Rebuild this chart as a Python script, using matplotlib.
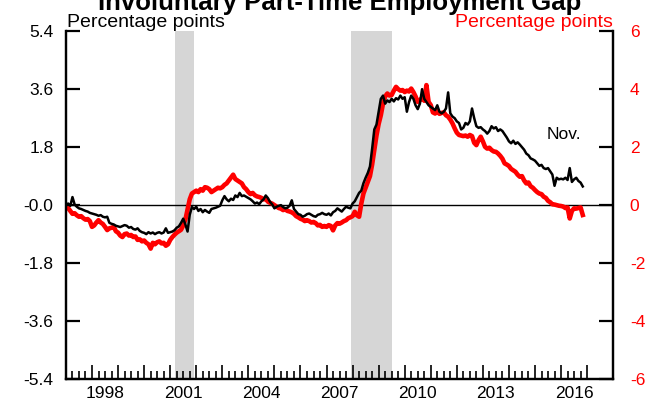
import numpy as np
import matplotlib
matplotlib.use("Agg")
import matplotlib.pyplot as plt
from matplotlib.ticker import FixedLocator

plt.rcParams['font.family'] = ['Liberation Sans', 'DejaVu Sans']

# monthly values, Jan 1997 - Nov 2016
# black line, left axis
gap_black = [
    0.0, 0.05, -0.02, 0.25, 0.02, -0.05, -0.1, -0.12, -0.15, -0.18, -0.2, -0.24,          # 1997
    -0.26, -0.28, -0.3, -0.33, -0.31, -0.36, -0.38, -0.36, -0.55, -0.58, -0.6, -0.64,     # 1998
    -0.66, -0.68, -0.65, -0.62, -0.64, -0.7, -0.68, -0.74, -0.76, -0.72, -0.8, -0.84,     # 1999
    -0.86, -0.9, -0.84, -0.88, -0.85, -0.9, -0.86, -0.84, -0.88, -0.85, -0.72, -0.86,     # 2000
    -0.84, -0.82, -0.78, -0.7, -0.66, -0.55, -0.42, -0.6, -0.82, -0.3, -0.06, -0.12,      # 2001
    -0.05, -0.18, -0.12, -0.22, -0.15, -0.2, -0.24, -0.12, -0.1, -0.08, -0.05, -0.02,     # 2002
    0.15, 0.28, 0.18, 0.12, 0.2, 0.16, 0.3, 0.25, 0.38, 0.28, 0.3, 0.26,                  # 2003
    0.22, 0.18, 0.12, 0.05, 0.08, 0.03, 0.12, 0.18, 0.3, 0.22, 0.1, 0.02,                 # 2004
    -0.1, -0.05, -0.02, 0.0, -0.06, -0.1, -0.08, -0.02, 0.15, -0.12, -0.2, -0.28,         # 2005
    -0.3, -0.36, -0.33, -0.28, -0.26, -0.3, -0.34, -0.36, -0.3, -0.28, -0.24, -0.28,      # 2006
    -0.3, -0.26, -0.32, -0.22, -0.18, -0.1, -0.15, -0.2, -0.12, -0.05, -0.08, -0.1,       # 2007
    0.05, 0.12, 0.25, 0.38, 0.45, 0.68, 0.85, 1.0, 1.2, 1.75, 2.35, 2.5,                  # 2008
    2.9, 3.3, 3.4, 3.15, 3.25, 3.2, 3.3, 3.22, 3.32, 3.28, 3.4, 3.3,                      # 2009
    3.35, 2.9, 3.2, 3.4, 3.3, 3.1, 2.98, 3.15, 3.6, 3.3, 3.2, 3.1,                        # 2010
    3.05, 3.0, 2.95, 3.1, 2.9, 2.85, 2.9, 3.0, 3.5, 2.85, 2.75, 2.7,                      # 2011
    2.6, 2.55, 2.35, 2.4, 2.55, 2.5, 2.6, 3.0, 2.7, 2.45, 2.4, 2.42,                      # 2012
    2.35, 2.3, 2.22, 2.3, 2.45, 2.38, 2.42, 2.3, 2.35, 2.3, 2.2, 2.1,                     # 2013
    1.98, 1.92, 2.0, 1.9, 1.95, 1.88, 1.8, 1.72, 1.6, 1.55, 1.45, 1.42,                   # 2014
    1.38, 1.3, 1.22, 1.25, 1.15, 1.12, 1.15, 1.05, 0.95, 0.6, 0.85, 0.8,                  # 2015
    0.82, 0.8, 0.85, 0.78, 1.15, 0.72, 0.8, 0.85, 0.75, 0.7, 0.58,                        # 2016
]

# red line, right axis
gap_red = [
    0.0, -0.1, -0.2, -0.3, -0.28, -0.35, -0.4, -0.38, -0.45, -0.5, -0.48, -0.55,          # 1997
    -0.75, -0.7, -0.6, -0.52, -0.6, -0.65, -0.75, -0.86, -0.8, -0.78, -0.75, -0.9,        # 1998
    -0.95, -1.05, -1.1, -1.0, -0.98, -1.05, -1.03, -1.1, -1.08, -1.2, -1.18, -1.25,       # 1999
    -1.22, -1.3, -1.35, -1.5, -1.3, -1.35, -1.28, -1.25, -1.32, -1.3, -1.4, -1.35,        # 2000
    -1.2, -1.1, -1.02, -0.95, -0.9, -0.85, -0.7, -0.5, -0.15, 0.2, 0.4, 0.45,             # 2001
    0.5, 0.45, 0.55, 0.5, 0.62, 0.6, 0.55, 0.45, 0.5, 0.55, 0.6, 0.58,                    # 2002
    0.62, 0.7, 0.75, 0.85, 0.95, 1.05, 0.9, 0.85, 0.8, 0.75, 0.62, 0.55,                  # 2003
    0.45, 0.38, 0.42, 0.34, 0.3, 0.28, 0.25, 0.2, 0.22, 0.12, 0.08, 0.05,                 # 2004
    0.0, -0.05, -0.1, -0.12, -0.17, -0.15, -0.2, -0.22, -0.25, -0.3, -0.38, -0.42,        # 2005
    -0.47, -0.5, -0.55, -0.52, -0.55, -0.6, -0.58, -0.62, -0.7, -0.68, -0.75, -0.72,      # 2006
    -0.75, -0.69, -0.72, -0.87, -0.7, -0.62, -0.64, -0.6, -0.55, -0.52, -0.45, -0.42,     # 2007
    -0.38, -0.23, -0.35, -0.4, 0.05, 0.4, 0.6, 0.8, 1.0, 1.4, 1.9, 2.4,                   # 2008
    2.8, 3.1, 3.5, 3.75, 3.85, 3.78, 3.8, 3.95, 4.08, 4.0, 3.95, 3.97,                    # 2009
    3.9, 3.95, 3.92, 4.02, 3.9, 3.75, 3.56, 3.62, 3.7, 3.6, 4.14, 3.56,                   # 2010
    3.45, 3.2, 3.16, 3.25, 3.15, 3.18, 3.2, 3.1, 3.05, 2.95, 2.82, 2.65,                  # 2011
    2.5, 2.42, 2.4, 2.38, 2.4, 2.36, 2.42, 2.38, 2.15, 2.07, 2.24, 2.36,                  # 2012
    2.2, 2.01, 1.95, 1.98, 1.9, 1.85, 1.84, 1.78, 1.7, 1.6, 1.44, 1.4,                    # 2013
    1.35, 1.25, 1.2, 1.15, 1.05, 0.98, 1.0, 0.85, 0.75, 0.78, 0.65, 0.6,                  # 2014
    0.52, 0.45, 0.4, 0.38, 0.29, 0.25, 0.15, 0.1, 0.03, 0.02, 0.0, -0.02,                 # 2015
    -0.03, -0.05, -0.1, -0.08, -0.46, -0.2, -0.11, -0.12, -0.1, -0.08, -0.34,             # 2016
]

recessions = [(2001.17, 2001.92), (2007.92, 2009.5)]
year_labels = ['1998', '2001', '2004', '2007', '2010', '2013', '2016']
left_ticks = [-5.4, -3.6, -1.8, 0.0, 1.8, 3.6, 5.4]
right_ticks = [-6, -4, -2, 0, 2, 4, 6]

n = len(gap_black)
t = 1997 + np.arange(n) / 12.0

fig = plt.figure(figsize=(6.53, 4.05), dpi=100)
# ax2 (right scale) sits underneath: shading, zero line, red line
ax2 = fig.add_axes([0.101, 0.064, 0.838, 0.859])
ax = ax2.twinx()

for r in recessions:
    ax2.axvspan(r[0], r[1], color='#d6d6d6', lw=0, zorder=0)
ax2.axhline(0, color='black', lw=1.0, zorder=1)
ax2.plot(t, gap_red, color='#ff0000', lw=3.3, zorder=2)
ax.plot(t, gap_black, color='black', lw=1.8, zorder=3)

ax2.set_xlim(1997, 2018)
ax.set_ylim(-5.4, 5.4)
ax2.set_ylim(-6, 6)

# twinx puts the new axis on the right, so swap sides
ax.yaxis.tick_left()
ax.yaxis.set_label_position('left')
ax2.yaxis.tick_right()

ax.set_yticks(left_ticks)
ax.set_yticklabels(['-5.4', '-3.6', '-1.8', '-0.0', '1.8', '3.6', '5.4'])
ax2.set_yticks(right_ticks)
ax2.set_yticklabels([str(v) for v in right_ticks])

ax2.xaxis.set_major_locator(FixedLocator(np.arange(1997, 2018)))
ax2.xaxis.set_minor_locator(FixedLocator(np.arange(1997, 2017.01, 0.25)))
ax2.set_xticklabels([])

for a in (ax, ax2):
    a.spines['top'].set_visible(False)
    for s in ['left', 'right', 'bottom']:
        a.spines[s].set_linewidth(1.6)

ax.tick_params(axis='y', which='both', left=True, right=False, labelleft=True, labelright=False,
               direction='in', length=10, width=1.6, pad=9, labelsize=12.5)
ax2.tick_params(axis='y', which='both', left=False, right=True, labelleft=False, labelright=True,
                direction='in', length=10, width=1.6, pad=12, labelsize=12.5, labelcolor='#ff0000')
ax2.tick_params(axis='x', which='major', direction='in', length=10, width=1.2)
ax2.tick_params(axis='x', which='minor', direction='in', length=6, width=1.2)

for lab in year_labels:
    ax2.text(int(lab) + 0.5, -0.02, lab, transform=ax2.get_xaxis_transform(),
             ha='center', va='top', fontsize=12.5)

ax.text(2016.1, 2.2, 'Nov.', ha='center', va='center', fontsize=12.5)

fig.text(0.52, 0.975, 'Involuntary Part-Time Employment Gap', ha='center', va='baseline',
         fontsize=18.5, fontweight='bold')
fig.text(0.1026, 0.933, 'Percentage points', ha='left', va='baseline', fontsize=14)
fig.text(0.939, 0.933, 'Percentage points', ha='right', va='baseline', fontsize=14, color='#ff0000')

fig.savefig('out.png', dpi=100)
